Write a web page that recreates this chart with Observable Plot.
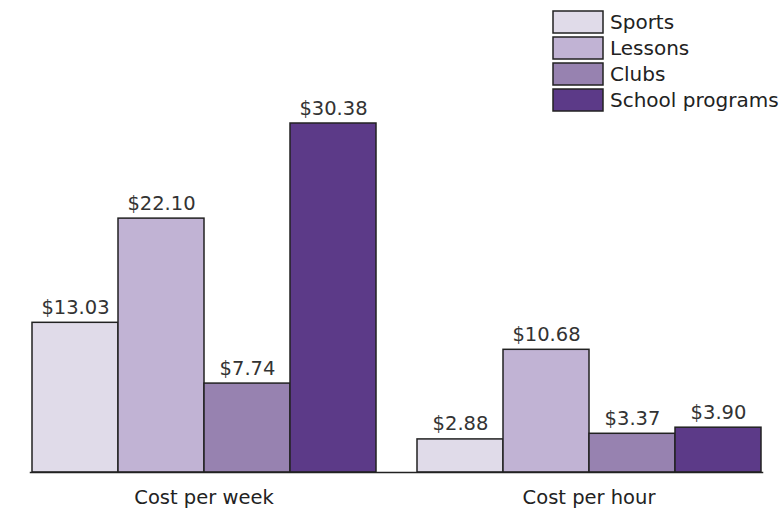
<!DOCTYPE html>
<html>
<head>
<meta charset="utf-8">
<script src="https://cdn.jsdelivr.net/npm/d3@7"></script>
<script src="https://cdn.jsdelivr.net/npm/@observablehq/plot@0.6"></script>
<style>
  html, body { margin: 0; padding: 0; background: #fff; }
  #wrap { position: relative; width: 783px; height: 510px; }
  #legend { position: absolute; left: 553px; top: 11px; }
  #legend svg { margin-right: 7px !important; }
  #legend svg rect { stroke: #222; stroke-width: 1.5px; }
  #legend > div > div { padding-bottom: 4px !important; line-height: 22px; }
</style>
</head>
<body>
<div id="wrap"><div id="legend"></div></div>
<script>
const categories = ["Sports", "Lessons", "Clubs", "School programs"];
const groups = ["Cost per week", "Cost per hour"];
const costPerWeek = [13.03, 22.10, 7.74, 30.38];
const costPerHour = [2.88, 10.68, 3.37, 3.90];
const colors = ["#e0dbe9", "#c1b3d4", "#9782b0", "#5c3a88"];

const data = [];
categories.forEach((c, i) => data.push({group: groups[0], category: c, value: costPerWeek[i]}));
categories.forEach((c, i) => data.push({group: groups[1], category: c, value: costPerHour[i]}));

const fontFamily = "'DejaVu Sans', sans-serif";

const chart = Plot.plot({
  width: 783,
  height: 510,
  marginTop: 123,
  marginBottom: 38,
  marginLeft: 10,
  marginRight: 20,
  style: {fontFamily, fontSize: "19.5px", color: "#222", background: "#fff"},
  fx: {domain: groups, paddingInner: 0.0988, paddingOuter: 0.0273, align: 0.95, axis: "bottom", label: null, tickSize: 0, tickPadding: 18},
  x: {domain: categories, padding: 0, axis: null},
  y: {domain: [0, 30.38], nice: false, axis: null},
  color: {domain: categories, range: colors},
  marks: [
    Plot.barY(data, {fx: "group", x: "category", y: "value", fill: "category", stroke: "#222", strokeWidth: 1.5, inset: 0}),
    Plot.text(data, {fx: "group", x: "category", y: "value", text: d => "$" + d.value.toFixed(2), lineAnchor: "bottom", dy: -9, fill: "#333"}),
    Plot.frame({anchor: "bottom", facet: "super", stroke: "#222", strokeWidth: 1.5})
  ]
});
document.getElementById("wrap").prepend(chart);

const legend = Plot.legend({
  color: {type: "ordinal", domain: categories, range: colors},
  legend: "swatches",
  columns: 1,
  swatchWidth: 50,
  swatchHeight: 22,
  style: {fontFamily, fontSize: "20px", color: "#222", width: "240px"}
});
document.getElementById("legend").appendChild(legend);
</script>
</body>
</html>
